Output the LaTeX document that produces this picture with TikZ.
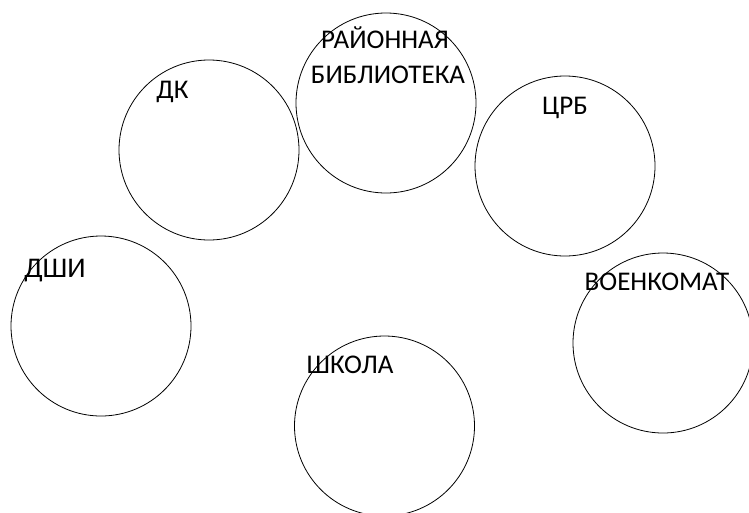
\documentclass[tikz,border=0pt]{standalone}
\usepackage{fontspec}
\setmainfont{Carlito}
\begin{document}
\begin{tikzpicture}[x=1pt,y=-1pt,
  ring/.style={circle,draw,line width=0.8pt,minimum size=180pt,inner sep=0pt},
  lbl/.style={anchor=base,inner sep=0pt,font=\fontsize{27}{32}\selectfont},
  biglbl/.style={anchor=base,inner sep=0pt,font=\fontsize{28.5}{34}\selectfont}]
\useasboundingbox (0,0) rectangle (749,512);
\begin{scope}
\clip (0,0) rectangle (749,512);
\node[ring] (dk) at (209,150) {};
\node[ring] (lib) at (386,103) {};
\node[ring] (crb) at (565,166) {};
\node[ring] (dshi) at (101,326) {};
\node[ring] (voen) at (663,343) {};
\node[ring] (shk) at (384.5,426) {};
\end{scope}
\node[lbl] (t1) at (385,48) {РАЙОННАЯ};
\node[lbl] (t2) at (388,83) {БИБЛИОТЕКА};
\node[lbl] (t3) at (172.5,98) {ДК};
\node[lbl] (t4) at (565,114) {ЦРБ};
\node[biglbl] (t5) at (55,277) {ДШИ};
\node[lbl] (t6) at (657,290) {ВОЕНКОМАТ};
\node[lbl] (t7) at (350,373) {ШКОЛА};
\end{tikzpicture}
\end{document}
